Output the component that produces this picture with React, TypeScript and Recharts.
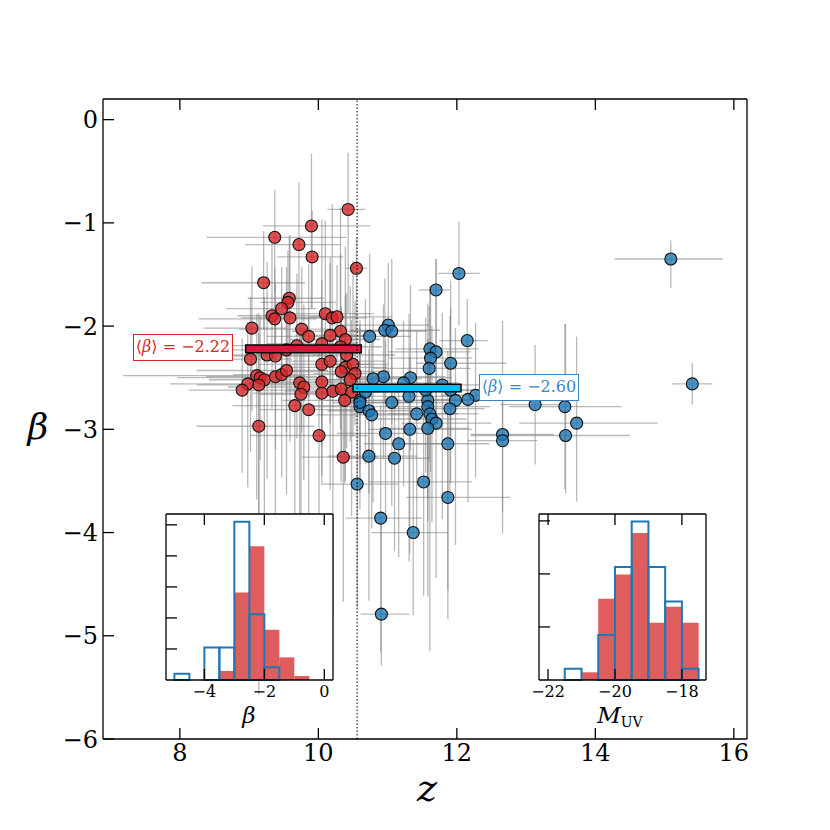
import React from "react";
import {
  ComposedChart,
  Scatter,
  ErrorBar,
  XAxis,
  YAxis,
  ReferenceLine,
  ReferenceArea,
} from "recharts";

// --- main panel: z vs beta, with asymmetric errors [low, high] ---
const redZ = [10.43, 9.9, 9.37, 9.72, 9.91, 10.55, 9.21, 9.58, 9.56, 9.47, 9.33, 9.37, 9.59, 9.04, 10.1, 10.2, 10.27, 9.76, 9.86, 10.32, 10.17, 10.39, 9.69, 9.54, 9.02, 9.26, 9.38, 10.05, 10.17, 10.39, 10.5, 10.33, 10.53, 9.11, 9.16, 9.22, 9.38, 9.47, 9.54, 8.98, 8.9, 9.14, 9.73, 9.79, 9.75, 9.66, 9.86, 10.05, 10.05, 10.21, 10.33, 10.46, 10.48, 10.38, 9.14, 10.01, 10.36, 10.32, 10.05, 10.41];
const redBeta = [-0.87, -1.03, -1.14, -1.21, -1.33, -1.44, -1.58, -1.73, -1.77, -1.83, -1.9, -1.93, -1.92, -2.02, -1.88, -1.92, -1.91, -2.03, -2.1, -2.05, -2.09, -2.13, -2.19, -2.23, -2.32, -2.28, -2.29, -2.37, -2.34, -2.4, -2.37, -2.44, -2.46, -2.48, -2.5, -2.52, -2.49, -2.47, -2.43, -2.56, -2.62, -2.57, -2.55, -2.59, -2.66, -2.77, -2.81, -2.54, -2.65, -2.63, -2.61, -2.52, -2.64, -2.72, -2.97, -3.06, -3.27, -2.2, -2.17, -2.28];
const redZErr = [[0.3, 0.25], [0.7, 0.85], [0.98, 1.04], [0.78, 0.6], [0.5, 0.45], [0.15, 0.15], [0.9, 0.6], [0.6, 0.5], [0.4, 0.7], [0.8, 0.5], [0.5, 0.9], [1.1, 0.6], [0.7, 0.6], [0.7, 0.5], [0.6, 0.7], [0.5, 0.5], [0.4, 0.8], [0.9, 0.6], [0.6, 0.8], [0.7, 0.4], [0.5, 0.6], [0.8, 0.5], [1.2, 0.8], [0.9, 1.0], [1.4, 0.6], [1.0, 0.8], [0.6, 0.9], [0.9, 0.7], [0.6, 0.8], [0.8, 0.6], [0.5, 0.5], [1.0, 0.7], [0.6, 0.4], [1.93, 0.7], [1.2, 0.9], [0.8, 1.1], [1.0, 0.6], [0.7, 0.8], [1.3, 0.6], [1.12, 0.8], [0.77, 0.9], [0.9, 1.2], [0.8, 0.7], [1.1, 0.6], [0.6, 0.9], [0.9, 0.7], [0.7, 0.8], [0.6, 0.9], [1.0, 0.6], [0.7, 0.7], [0.8, 0.5], [0.5, 0.6], [0.7, 0.4], [0.9, 0.5], [0.9, 0.8], [1.0, 0.7], [0.6, 0.5], [0.7, 0.6], [0.8, 0.5], [0.5, 0.7]];
const redBetaErr = [[1.0, 0.55], [0.8, 0.7], [0.54, 0.46], [0.7, 0.6], [0.5, 0.45], [0.8, 0.3], [0.45, 0.5], [0.5, 0.6], [0.7, 0.5], [0.6, 0.4], [0.9, 0.7], [0.4, 0.5], [1.2, 0.8], [0.8, 0.6], [0.5, 0.9], [0.7, 1.1], [0.6, 0.5], [1.0, 0.6], [0.6, 0.7], [0.8, 1.2], [1.5, 0.7], [0.6, 0.9], [0.9, 0.7], [1.4, 0.8], [0.9, 0.6], [1.2, 0.9], [2.0, 0.5], [0.8, 0.6], [0.6, 1.0], [1.1, 0.7], [0.7, 1.0], [0.9, 0.6], [0.5, 0.7], [1.2, 0.6], [0.8, 0.6], [1.5, 0.8], [0.7, 0.9], [1.0, 0.5], [0.6, 0.7], [1.0, 0.6], [0.8, 0.5], [2.5, 0.7], [1.3, 0.6], [0.9, 0.8], [2.4, 0.7], [1.1, 0.6], [1.8, 0.9], [1.0, 0.7], [0.8, 1.1], [2.2, 0.6], [0.9, 0.8], [0.6, 0.9], [1.2, 0.7], [0.8, 0.6], [2.6, 0.9], [1.9, 0.8], [1.4, 0.9], [0.8, 0.9], [0.7, 1.2], [0.9, 0.6]];

const blueZ = [15.09, 15.4, 13.13, 13.56, 13.73, 12.66, 12.66, 13.57, 12.27, 12.15, 12.03, 11.7, 11.01, 10.96, 11.06, 10.74, 11.61, 11.7, 11.62, 11.91, 11.6, 10.94, 10.79, 11.33, 11.23, 11.79, 11.91, 12.16, 11.98, 11.9, 11.31, 11.06, 11.58, 11.58, 11.42, 11.61, 11.64, 11.7, 11.58, 11.32, 10.97, 11.16, 11.87, 10.73, 11.1, 10.56, 11.52, 11.87, 10.9, 11.37, 10.91, 10.6, 10.6, 10.73, 10.77, 10.68, 10.6, 11.55];
const blueBeta = [-1.35, -2.56, -2.76, -2.78, -2.94, -3.05, -3.11, -3.06, -2.67, -2.14, -1.49, -1.65, -1.99, -2.04, -2.05, -2.1, -2.22, -2.25, -2.31, -2.36, -2.41, -2.49, -2.51, -2.5, -2.55, -2.57, -2.62, -2.71, -2.72, -2.8, -2.68, -2.74, -2.72, -2.78, -2.85, -2.85, -2.9, -2.94, -2.99, -3.0, -3.04, -3.14, -3.14, -3.26, -3.28, -3.53, -3.51, -3.66, -3.86, -4.0, -4.79, -2.72, -2.78, -2.82, -2.86, -2.64, -2.74, -2.62];
const blueZErr = [[0.81, 0.75], [0.29, 0.29], [0.5, 0.5], [0.8, 0.82], [0.83, 1.17], [0.46, 0.74], [0.5, 0.5], [1.37, 0.93], [0.5, 1.0], [0.4, 0.3], [0.3, 0.3], [0.25, 0.2], [0.7, 0.6], [0.5, 0.8], [0.6, 0.5], [0.4, 0.6], [0.5, 0.7], [0.7, 0.5], [0.6, 0.6], [0.5, 0.8], [0.8, 0.6], [0.6, 0.9], [0.5, 0.7], [0.9, 0.6], [0.7, 0.8], [0.6, 0.7], [0.8, 0.6], [0.6, 0.4], [0.7, 0.9], [0.9, 0.5], [0.8, 0.7], [0.6, 0.8], [0.7, 0.6], [0.5, 0.9], [0.9, 0.6], [0.6, 0.7], [0.8, 0.5], [0.5, 0.8], [0.7, 0.6], [0.6, 0.9], [0.7, 0.7], [0.5, 0.8], [0.8, 0.6], [0.6, 0.7], [0.7, 0.5], [0.5, 0.6], [0.8, 0.7], [0.6, 0.9], [0.5, 0.6], [0.6, 0.5], [0.3, 0.4], [0.5, 0.6], [0.7, 0.5], [0.6, 0.7], [0.8, 0.6], [0.6, 0.5], [0.4, 0.7], [0.7, 0.8]];
const blueBetaErr = [[0.28, 0.18], [0.2, 0.2], [0.58, 0.58], [0.8, 0.8], [0.76, 0.84], [0.75, 1.1], [0.9, 0.6], [0.56, 1.08], [0.8, 0.7], [0.5, 0.4], [0.5, 0.5], [0.6, 0.3], [0.5, 0.6], [0.7, 0.5], [0.9, 0.7], [0.5, 0.8], [0.8, 0.6], [0.6, 0.9], [1.1, 0.7], [0.7, 0.8], [0.9, 0.6], [0.8, 0.7], [1.2, 0.6], [0.7, 0.9], [1.0, 0.6], [1.3, 0.7], [0.9, 0.8], [1.0, 0.6], [1.4, 0.7], [0.8, 0.9], [1.6, 0.8], [1.0, 0.7], [1.9, 0.6], [0.9, 1.0], [1.2, 0.8], [2.3, 0.7], [1.0, 0.9], [1.5, 0.6], [0.9, 0.8], [1.2, 0.7], [0.8, 0.9], [1.1, 0.6], [1.7, 0.9], [1.4, 0.8], [0.9, 0.7], [1.2, 1.0], [1.1, 0.9], [0.9, 0.8], [1.3, 1.1], [0.8, 0.9], [0.5, 0.9], [0.9, 0.7], [1.0, 0.8], [0.8, 0.6], [1.1, 0.7], [0.7, 0.9], [0.6, 0.8], [0.8, 0.7]];

// mean beta of each redshift bin and the z span of its bar
const redMean = -2.22;
const redMeanSpan = [8.95, 10.62];
const blueMean = -2.6;
const blueMeanSpan = [10.5, 12.06];
const zSplit = 10.56;

const zTicks = [8, 10, 12, 14, 16];
const betaTicks = [-6, -5, -4, -3, -2, -1, 0];

// --- insets: normalised histograms (density) ---
const betaEdges = [-5, -4.5, -4, -3.5, -3, -2.5, -2, -1.5, -1, -0.5];
const betaRedHist = [0, 0, 0, 0.058, 0.564, 0.862, 0.324, 0.146, 0.026];
const betaBlueHist = [0.04, 0, 0.21, 0.21, 1.02, 0.424, 0.082, 0, 0];
const betaHistTicks = [-4, -2, 0];

const muvEdges = [-22, -21.5, -21, -20.5, -20, -19.5, -19, -18.5, -18, -17.5];
const muvRedHist = [0, 0, 0.029, 0.306, 0.398, 0.554, 0.216, 0.276, 0.216];
const muvBlueHist = [0, 0.042, 0, 0.17, 0.426, 0.598, 0.426, 0.296, 0.042];
const muvHistTicks = [-22, -20, -18];

const RED = "#d62728";
const BLUE = "#1f77b4";
const SERIF = "DejaVu Serif, Liberation Serif, serif";

const minus = (v: number) => (v < 0 ? `\u2212${Math.abs(v)}` : `${v}`);

const rows = (z: number[], b: number[], ez: number[][], eb: number[][]) =>
  z.map((v, i) => ({ z: v, b: b[i], ez: ez[i], eb: eb[i] }));

const redRows = rows(redZ, redBeta, redZErr, redBetaErr);
const blueRows = rows(blueZ, blueBeta, blueZErr, blueBetaErr);

const noDot = () => <g />;
const noTick = () => <g />;
const dot = (color: string) => (p: any) =>
  <circle cx={p.cx} cy={p.cy} r={6} fill={color} fillOpacity={0.8} stroke="#111" strokeWidth={1.1} />;

const errProps = { width: 0, stroke: "#7f7f7f", strokeOpacity: 0.55, strokeWidth: 1.3, isAnimationActive: false };

function Inset({
  left,
  top,
  edges,
  red,
  blue,
  xDomain,
  xTicks,
  yTicks,
  yMax,
}: {
  left: number;
  top: number;
  edges: number[];
  red: number[];
  blue: number[];
  xDomain: number[];
  xTicks: number[];
  yTicks: number[];
  yMax: number;
}) {
  const W = 167;
  const H = 166;
  const bins = edges.slice(0, -1).map((e, i) => ({ x0: e, x1: edges[i + 1], r: red[i], b: blue[i] }));
  return (
    <>
      <div style={{ position: "absolute", left, top, width: W, height: H, background: "#fff" }} />
      <div style={{ position: "absolute", left: left - 20, top: top - 5 }}>
        <ComposedChart width={W + 40} height={H + 50} data={bins} margin={{ top: 4, right: 19, left: 19, bottom: 0 }}>
          <XAxis
            dataKey="x0"
            type="number"
            domain={xDomain}
            ticks={xTicks}
            allowDataOverflow
            height={45}
            stroke="#000"
            strokeWidth={1.3}
            tickSize={-11}
            tickMargin={17}
            tickFormatter={minus}
            tick={{ fill: "#000", fontSize: 16, fontFamily: SERIF }}
          />
          <XAxis xAxisId="top" dataKey="x0" orientation="top" type="number" domain={xDomain} ticks={xTicks} allowDataOverflow height={1} stroke="#000" strokeWidth={1.3} tickSize={-11} tick={noTick} />
          <YAxis dataKey="r" type="number" domain={[0, yMax]} ticks={yTicks} allowDataOverflow width={1} stroke="#000" strokeWidth={1.3} tickSize={-11} tick={noTick} />
          <YAxis yAxisId="right" dataKey="r" orientation="right" type="number" domain={[0, yMax]} allowDataOverflow width={1} stroke="#000" strokeWidth={1.3} tick={false} tickLine={false} />
          {/* invisible series so every frame axis is drawn */}
          <Scatter shape={noDot} isAnimationActive={false} />
          <Scatter xAxisId="top" yAxisId="right" shape={noDot} isAnimationActive={false} />
          {bins.filter((d) => d.r > 0).map((d) => (
            <ReferenceArea key={`r${d.x0}`} x1={d.x0} x2={d.x1} y1={0} y2={d.r} fill={RED} fillOpacity={0.75} stroke="none" />
          ))}
          {bins.filter((d) => d.b > 0).map((d) => (
            <ReferenceArea key={`b${d.x0}`} x1={d.x0} x2={d.x1} y1={0} y2={d.b} fill="none" fillOpacity={0} stroke={BLUE} strokeWidth={2} strokeOpacity={1} />
          ))}
        </ComposedChart>
      </div>
    </>
  );
}

function MeanLabel({ left, top, color, value }: { left: number; top: number; color: string; value: string }) {
  return (
    <div
      style={{
        position: "absolute",
        left,
        top,
        width: 100,
        height: 27,
        boxSizing: "border-box",
        border: `1.5px solid ${color}`,
        background: "#fff",
        color,
        fontFamily: SERIF,
        fontSize: 16,
        lineHeight: "24px",
        textAlign: "center",
        whiteSpace: "nowrap",
      }}
    >
      ⟨<i>β</i>⟩ = {value}
    </div>
  );
}

export default function App() {
  return (
    <div style={{ position: "absolute", left: 0, top: 0, width: 830, height: 830, background: "#fff", fontFamily: SERIF }}>
      <ComposedChart width={830} height={830} margin={{ top: 98, right: 82, left: 0, bottom: 0 }}>
        <XAxis
          dataKey="z"
          type="number"
          domain={[6.89, 16.19]}
          ticks={zTicks}
          allowDataOverflow
          height={91}
          stroke="#000"
          strokeWidth={1.3}
          tickSize={-11}
          tickMargin={16}
          tick={{ fill: "#000", fontSize: 24, fontFamily: SERIF }}
        />
        <XAxis xAxisId="top" dataKey="z" orientation="top" type="number" domain={[6.89, 16.19]} ticks={zTicks} allowDataOverflow height={1} stroke="#000" strokeWidth={1.3} tickSize={-11} tick={noTick} />
        <YAxis
          dataKey="b"
          type="number"
          domain={[-6, 0.2]}
          ticks={betaTicks}
          allowDataOverflow
          width={103}
          stroke="#000"
          strokeWidth={1.3}
          tickSize={-11}
          tickMargin={16}
          tickFormatter={minus}
          tick={{ fill: "#000", fontSize: 24, fontFamily: SERIF }}
        />
        <YAxis yAxisId="right" dataKey="b" orientation="right" type="number" domain={[-6, 0.2]} allowDataOverflow width={1} stroke="#000" strokeWidth={1.3} tick={false} tickLine={false} />

        {/* invisible series bound to the top/right frame axes */}
        <Scatter data={redRows} xAxisId="top" yAxisId="right" shape={noDot} isAnimationActive={false} />

        <Scatter data={redRows} shape={noDot} isAnimationActive={false}>
          <ErrorBar dataKey="ez" direction="x" {...errProps} />
          <ErrorBar dataKey="eb" direction="y" {...errProps} />
        </Scatter>
        <Scatter data={blueRows} shape={noDot} isAnimationActive={false}>
          <ErrorBar dataKey="ez" direction="x" {...errProps} />
          <ErrorBar dataKey="eb" direction="y" {...errProps} />
        </Scatter>
        <Scatter data={redRows} shape={dot(RED)} isAnimationActive={false} />
        <Scatter data={blueRows} shape={dot(BLUE)} isAnimationActive={false} />

        <ReferenceLine x={zSplit} stroke="#000" strokeWidth={1} strokeDasharray="1.5 2" zIndex={1200} />
        <ReferenceArea x1={redMeanSpan[0]} x2={redMeanSpan[1]} y1={redMean - 0.037} y2={redMean + 0.037} fill="#dc143c" fillOpacity={1} stroke="#000" strokeWidth={1.5} zIndex={1100} />
        <ReferenceArea x1={blueMeanSpan[0]} x2={blueMeanSpan[1]} y1={blueMean - 0.037} y2={blueMean + 0.037} fill="#00bfff" fillOpacity={1} stroke="#000" strokeWidth={1.5} zIndex={1100} />
      </ComposedChart>

      <MeanLabel left={133} top={334} color={RED} value={"\u22122.22"} />
      <MeanLabel left={479} top={374} color="#3a86c4" value={"\u22122.60"} />

      <Inset left={166} top={514} edges={betaEdges} red={betaRedHist} blue={betaBlueHist} xDomain={[-5.28, 0.29]} xTicks={betaHistTicks} yTicks={[0.2, 0.4, 0.6, 0.8, 1.0]} yMax={1.07} />
      <Inset left={539} top={514} edges={muvEdges} red={muvRedHist} blue={muvBlueHist} xDomain={[-22.27, -17.28]} xTicks={muvHistTicks} yTicks={[0.2, 0.4, 0.6]} yMax={0.626} />

      <div style={{ position: "absolute", left: 229, top: 703, width: 40, lineHeight: "24px", textAlign: "center", fontSize: 23, fontStyle: "italic" }}>β</div>
      <div style={{ position: "absolute", left: 590, top: 703, width: 60, lineHeight: "24px", textAlign: "center", fontSize: 23 }}>
        <i>M</i>
        <span style={{ fontSize: 14, position: "relative", top: 4 }}>UV</span>
      </div>
      <div style={{ position: "absolute", left: 405, top: 766, width: 44, textAlign: "center", fontSize: 38, fontStyle: "italic" }}>z</div>
      <div style={{ position: "absolute", left: 16, top: 406, width: 44, textAlign: "center", fontSize: 36, fontStyle: "italic" }}>β</div>
    </div>
  );
}
